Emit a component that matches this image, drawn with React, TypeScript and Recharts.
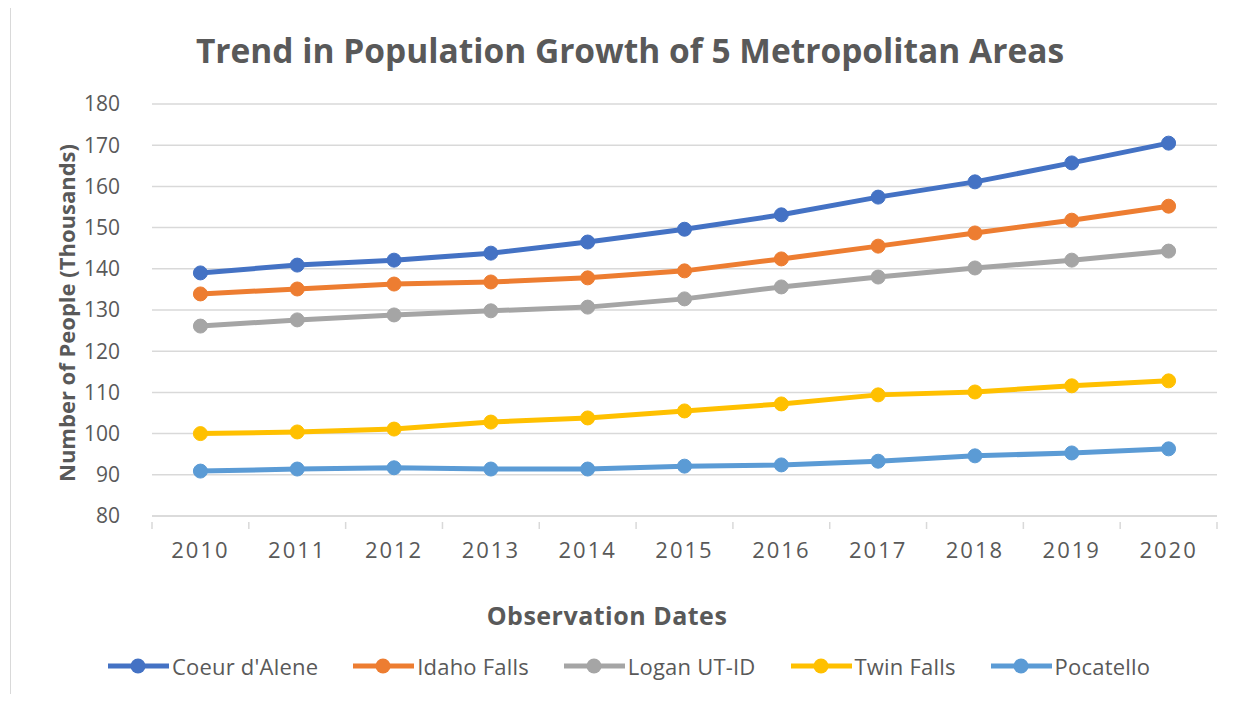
import { CartesianGrid, Line, LineChart, XAxis, YAxis } from "recharts"

const years = ["2010", "2011", "2012", "2013", "2014", "2015", "2016", "2017", "2018", "2019", "2020"]
const coeurDAlene = [139.0, 140.9, 142.1, 143.8, 146.5, 149.6, 153.1, 157.4, 161.1, 165.7, 170.5]
const idahoFalls = [133.9, 135.1, 136.3, 136.8, 137.8, 139.5, 142.4, 145.5, 148.7, 151.8, 155.2]
const loganUtId = [126.1, 127.6, 128.8, 129.8, 130.7, 132.7, 135.6, 138.0, 140.2, 142.1, 144.3]
const twinFalls = [100.0, 100.4, 101.1, 102.8, 103.8, 105.5, 107.2, 109.4, 110.1, 111.6, 112.8]
const pocatello = [90.9, 91.4, 91.7, 91.4, 91.4, 92.1, 92.4, 93.3, 94.6, 95.3, 96.3]
const yTicks = [80, 90, 100, 110, 120, 130, 140, 150, 160, 170, 180]

const series = [
  { key: "coeur", name: "Coeur d'Alene", values: coeurDAlene, color: "#4472C4" },
  { key: "idaho", name: "Idaho Falls", values: idahoFalls, color: "#ED7D31" },
  { key: "logan", name: "Logan UT-ID", values: loganUtId, color: "#A5A5A5" },
  { key: "twin", name: "Twin Falls", values: twinFalls, color: "#FFC000" },
  { key: "poca", name: "Pocatello", values: pocatello, color: "#5B9BD5" },
]

const data = years.map((year, i) => {
  const row: Record<string, string | number> = { year }
  series.forEach((s) => {
    row[s.key] = s.values[i]
  })
  return row
})

const font = "'Open Sans', sans-serif"
const textColor = "#595959"
const plotLeft = 152
const plotRight = 1217
const band = (plotRight - plotLeft) / years.length

// Excel style: tick marks sit between categories, labels in the middle
function YearTick(props: any) {
  const { x, y, payload, index } = props
  const axisY = y - 24
  const last = index === years.length - 1
  return (
    <g>
      <line x1={x - band / 2} x2={x - band / 2} y1={axisY} y2={axisY + 7} stroke="#d9d9d9" strokeWidth={1.5} />
      {last && <line x1={x + band / 2} x2={x + band / 2} y1={axisY} y2={axisY + 7} stroke="#d9d9d9" strokeWidth={1.5} />}
      <text x={x} y={y} dy={12} textAnchor="middle" fill={textColor} fontSize={22} letterSpacing={2} fontFamily={font}>
        {payload.value}
      </text>
    </g>
  )
}

export default function App() {
  return (
    <div style={{ position: "relative", width: 1249, height: 702, margin: -8, background: "#fff", fontFamily: font }}>
      <div
        style={{
          position: "absolute",
          left: 10,
          top: 0,
          width: 1233,
          height: 698,
          borderLeft: "1px solid #d9d9d9",
          borderRight: "1px solid #d9d9d9",
          borderBottom: "1px solid #d9d9d9",
        }}
      />
      <div
        style={{
          position: "absolute",
          left: 630,
          top: 50,
          transform: "translate(-50%, -50%)",
          whiteSpace: "nowrap",
          fontSize: 33.5,
          fontWeight: 700,
          color: textColor,
        }}
      >
        Trend in Population Growth of 5 Metropolitan Areas
      </div>
      <div
        style={{
          position: "absolute",
          left: 66,
          top: 313,
          transform: "translate(-50%, -50%) rotate(-90deg)",
          whiteSpace: "nowrap",
          fontSize: 22,
          fontWeight: 700,
          color: textColor,
        }}
      >
        Number of People (Thousands)
      </div>
      <div
        style={{
          position: "absolute",
          left: 607,
          top: 615,
          transform: "translate(-50%, -50%)",
          whiteSpace: "nowrap",
          fontSize: 25,
          letterSpacing: 0.5,
          fontWeight: 700,
          color: textColor,
        }}
      >
        Observation Dates
      </div>
      <div style={{ position: "absolute", top: 0, left: 0 }}>
        <LineChart width={1249} height={702} data={data} margin={{ top: 104, right: 1249 - plotRight, bottom: 126, left: 0 }}>
          <CartesianGrid vertical={false} stroke="#d9d9d9" strokeWidth={1.5} />
          <XAxis
            dataKey="year"
            axisLine={{ stroke: "#d9d9d9", strokeWidth: 1.5 }}
            tickLine={false}
            tick={<YearTick />}
            tickMargin={24}
            interval={0}
            height={60}
            padding={{ left: band / 2, right: band / 2 }}
          />
          <YAxis
            domain={[80, 180]}
            ticks={yTicks}
            width={plotLeft}
            axisLine={false}
            tickLine={false}
            tickMargin={26}
            tick={{ fill: textColor, fontSize: 21, fontFamily: font }}
          />
          {series.map((s) => (
            <Line
              key={s.key}
              type="linear"
              dataKey={s.key}
              name={s.name}
              stroke={s.color}
              strokeWidth={5}
              dot={{ r: 7, fill: s.color, stroke: s.color, strokeWidth: 1 }}
              activeDot={false}
              isAnimationActive={false}
            />
          ))}
        </LineChart>
      </div>
      <div
        style={{
          position: "absolute",
          top: 651,
          left: 108,
          display: "flex",
          gap: 35,
          fontSize: 22,
          color: textColor,
        }}
      >
        {series.map((s) => (
          <div key={s.key} style={{ display: "flex", alignItems: "center" }}>
            <svg width={61} height={26}>
              <line x1={0} x2={61} y1={13} y2={13} stroke={s.color} strokeWidth={5} />
              <circle cx={30} cy={13} r={7.5} fill={s.color} />
            </svg>
            <span style={{ marginLeft: 3, letterSpacing: 0.2 }}>{s.name}</span>
          </div>
        ))}
      </div>
    </div>
  )
}
